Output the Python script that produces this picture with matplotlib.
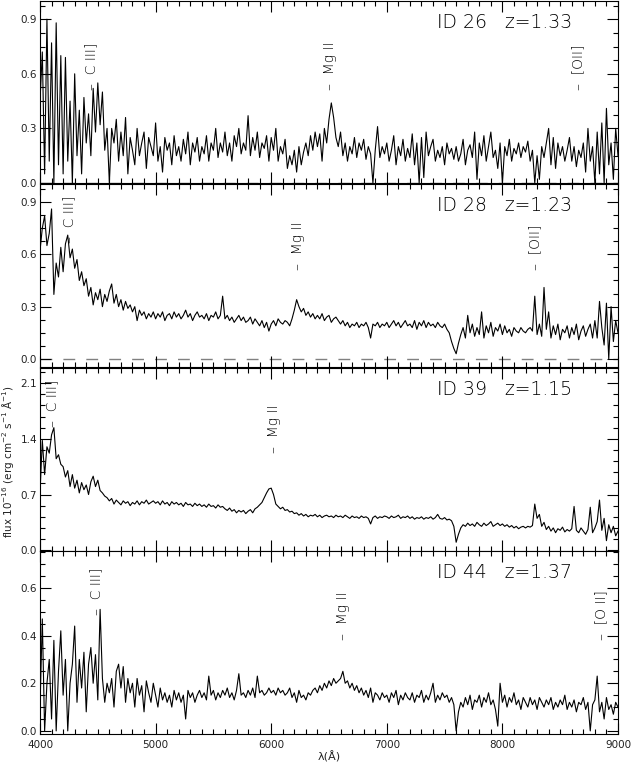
import numpy as np
import matplotlib
matplotlib.use('Agg')
import matplotlib.pyplot as plt
from matplotlib.ticker import MultipleLocator, FormatStrFormatter

# wavelength grid (Angstrom), 20 A sampling
wave = np.arange(4000, 9001, 20)

flux_id26 = [
    0.45, 0.72, 0.05, 0.90, 0.12, 0.77, 0.00, 0.88, 0.10, 0.70,
    0.05, 0.69, 0.12, 0.45, 0.00, 0.60, 0.15, 0.40, 0.05, 0.47,
    0.22, 0.38, 0.15, 0.52, 0.28, 0.55, 0.32, 0.50, 0.18, 0.30,
    0.00, 0.30, 0.22, 0.35, 0.12, 0.28, 0.15, 0.36, 0.05, 0.25,
    0.18, 0.10, 0.30, 0.15, 0.22, 0.28, 0.08, 0.25, 0.20, 0.15,
    0.33, 0.12, 0.20, 0.06, 0.25, 0.18, 0.22, 0.10, 0.26, 0.15,
    0.20, 0.12, 0.24, 0.16, 0.28, 0.10, 0.22, 0.17, 0.25, 0.12,
    0.20, 0.16, 0.26, 0.12, 0.22, 0.18, 0.30, 0.14, 0.22, 0.17,
    0.28, 0.15, 0.22, 0.12, 0.26, 0.20, 0.30, 0.16, 0.22, 0.18,
    0.37, 0.15, 0.25, 0.18, 0.28, 0.14, 0.22, 0.19, 0.26, 0.12,
    0.25, 0.18, 0.30, 0.12, 0.20, 0.16, 0.24, 0.08, 0.15, 0.10,
    0.18, 0.06, 0.20, 0.10, 0.17, 0.22, 0.15, 0.26, 0.18, 0.28,
    0.20, 0.27, 0.12, 0.30, 0.22, 0.35, 0.44, 0.36, 0.25, 0.20,
    0.28, 0.15, 0.22, 0.12, 0.20, 0.16, 0.25, 0.14, 0.22, 0.18,
    0.24, 0.13, 0.20, 0.16, 0.00, 0.18, 0.31, 0.14, 0.20, 0.16,
    0.22, 0.12, 0.18, 0.26, 0.10, 0.20, 0.15, 0.24, 0.12, 0.19,
    0.14, 0.27, 0.10, 0.22, 0.00, 0.25, 0.03, 0.28, 0.15, 0.20,
    0.24, 0.12, 0.18, 0.14, 0.20, 0.10, 0.22, 0.16, 0.19, 0.13,
    0.20, 0.12, 0.16, 0.24, 0.10, 0.18, 0.21, 0.14, 0.28, 0.02,
    0.22, 0.15, 0.26, 0.12, 0.20, 0.28, 0.14, 0.18, 0.08, 0.22,
    0.00, 0.20, 0.15, 0.24, 0.12, 0.19, 0.16, 0.22, 0.14, 0.20,
    0.17, 0.23, 0.12, 0.18, 0.00, 0.15, 0.02, 0.20, 0.14, 0.22,
    0.30, 0.10, 0.25, 0.08, 0.22, 0.15, 0.20, 0.12, 0.18, 0.25,
    0.12, 0.20, 0.09, 0.18, 0.14, 0.22, 0.06, 0.30, 0.12, 0.20,
    0.00, 0.28, 0.05, 0.33, 0.00, 0.41, 0.10, 0.22, 0.02, 0.30,
    0.15,
]

flux_id28 = [
    0.62, 0.75, 0.82, 0.65, 0.72, 0.86, 0.37, 0.55, 0.47, 0.64,
    0.50, 0.66, 0.71, 0.58, 0.63, 0.52, 0.57, 0.45, 0.50, 0.42,
    0.46, 0.36, 0.41, 0.31, 0.38, 0.34, 0.40, 0.30, 0.37, 0.33,
    0.39, 0.43, 0.32, 0.37, 0.30, 0.34, 0.28, 0.33, 0.29, 0.31,
    0.27, 0.30, 0.22, 0.28, 0.25, 0.27, 0.23, 0.26, 0.24, 0.27,
    0.23, 0.26, 0.24, 0.27, 0.22, 0.25, 0.26, 0.23, 0.27, 0.24,
    0.26, 0.23, 0.25, 0.28, 0.24, 0.26, 0.22, 0.25, 0.27, 0.24,
    0.25, 0.23, 0.26, 0.22, 0.25, 0.24, 0.27, 0.23, 0.25, 0.36,
    0.23, 0.25, 0.22, 0.24, 0.21, 0.23, 0.25, 0.22, 0.24, 0.21,
    0.22, 0.24, 0.20, 0.23, 0.21, 0.19, 0.22, 0.18, 0.21, 0.16,
    0.20, 0.22, 0.19, 0.23, 0.21, 0.20, 0.22, 0.21, 0.19, 0.23,
    0.28, 0.34, 0.30, 0.27, 0.29, 0.25, 0.27, 0.24, 0.26, 0.23,
    0.25, 0.23, 0.26, 0.22, 0.24, 0.25, 0.21, 0.23, 0.24, 0.22,
    0.20, 0.22, 0.19, 0.21, 0.18, 0.20, 0.19, 0.21, 0.18, 0.20,
    0.19, 0.21, 0.18, 0.12, 0.20, 0.19, 0.21, 0.18, 0.20, 0.19,
    0.21, 0.18, 0.20, 0.22, 0.19, 0.21, 0.18, 0.20, 0.22, 0.19,
    0.20, 0.18, 0.22, 0.17, 0.21, 0.19, 0.22, 0.18, 0.21, 0.19,
    0.20, 0.18, 0.21, 0.19, 0.18, 0.20, 0.17, 0.15, 0.10, 0.06,
    0.03, 0.09, 0.14, 0.18, 0.12, 0.25, 0.15, 0.20, 0.13, 0.18,
    0.14, 0.27, 0.12, 0.19, 0.15, 0.21, 0.13, 0.18, 0.16, 0.20,
    0.14, 0.19, 0.15, 0.17, 0.13, 0.18, 0.16, 0.15, 0.18, 0.16,
    0.15, 0.17, 0.18, 0.16, 0.36, 0.14, 0.20, 0.13, 0.41, 0.17,
    0.27, 0.12, 0.19, 0.14, 0.20, 0.11, 0.17, 0.15, 0.19, 0.12,
    0.18, 0.14, 0.20, 0.11, 0.16, 0.19, 0.13, 0.17, 0.20, 0.12,
    0.22, 0.12, 0.33, 0.18, 0.08, 0.32, 0.00, 0.30, 0.10, 0.22,
    0.15,
]

flux_id39 = [
    0.72, 1.38, 0.95, 1.30, 1.22, 1.45, 1.54, 1.15, 1.20, 1.08,
    1.05, 0.92, 1.00, 0.80, 0.95, 0.78, 0.88, 0.72, 0.85, 0.76,
    0.82, 0.70, 0.86, 0.93, 0.80, 0.88, 0.75, 0.72, 0.68, 0.66,
    0.62, 0.65, 0.58, 0.63, 0.60, 0.57, 0.62, 0.59, 0.61, 0.56,
    0.60, 0.58, 0.62, 0.57, 0.61, 0.59, 0.63, 0.58, 0.60, 0.62,
    0.59, 0.61, 0.57, 0.62, 0.58, 0.60, 0.56, 0.61, 0.58, 0.60,
    0.57, 0.59, 0.55, 0.60, 0.57, 0.58, 0.55, 0.59, 0.56, 0.58,
    0.55, 0.57, 0.54, 0.58, 0.55, 0.56, 0.53, 0.57, 0.54, 0.55,
    0.52, 0.50, 0.53, 0.49, 0.51, 0.47, 0.50, 0.48, 0.50, 0.46,
    0.49, 0.51, 0.47, 0.52, 0.54, 0.57, 0.60, 0.66, 0.72, 0.77,
    0.78, 0.70, 0.58, 0.55, 0.52, 0.54, 0.50, 0.51, 0.48, 0.49,
    0.46, 0.47, 0.44, 0.46, 0.43, 0.45, 0.42, 0.44, 0.43, 0.45,
    0.42, 0.44, 0.41, 0.43, 0.44, 0.42, 0.43, 0.41, 0.44, 0.42,
    0.43, 0.41, 0.44, 0.42, 0.40, 0.43, 0.41, 0.42, 0.40, 0.43,
    0.41, 0.42, 0.40, 0.33, 0.41, 0.43, 0.40, 0.42, 0.41, 0.43,
    0.42, 0.40, 0.43, 0.41, 0.42, 0.44, 0.40, 0.42, 0.41, 0.43,
    0.40, 0.42, 0.39, 0.41, 0.40, 0.42, 0.39, 0.41, 0.40, 0.42,
    0.39, 0.41, 0.45, 0.40, 0.39, 0.41, 0.38, 0.39, 0.37, 0.30,
    0.10, 0.20, 0.28, 0.32, 0.30, 0.34, 0.31, 0.33, 0.30, 0.35,
    0.32, 0.30, 0.34, 0.31, 0.33, 0.36, 0.30, 0.32, 0.34, 0.31,
    0.33, 0.30, 0.32, 0.29, 0.31, 0.28, 0.30, 0.27, 0.29, 0.30,
    0.28, 0.30, 0.29, 0.31, 0.58, 0.40, 0.45, 0.30, 0.35, 0.26,
    0.30, 0.24, 0.28, 0.22, 0.27, 0.25, 0.29, 0.23, 0.26, 0.24,
    0.27, 0.55, 0.25, 0.22, 0.28, 0.24, 0.20, 0.26, 0.54, 0.22,
    0.28, 0.36, 0.63, 0.25, 0.40, 0.12, 0.32, 0.22, 0.30, 0.18,
    0.24,
]

flux_id44 = [
    0.10, 0.47, 0.00, 0.20, 0.30, 0.05, 0.38, 0.00, 0.25, 0.42,
    0.15, 0.30, 0.00, 0.20, 0.28, 0.44, 0.12, 0.30, 0.18, 0.33,
    0.08, 0.28, 0.35, 0.20, 0.32, 0.13, 0.51, 0.22, 0.12, 0.20,
    0.16, 0.22, 0.10, 0.25, 0.28, 0.18, 0.27, 0.12, 0.22, 0.16,
    0.20, 0.10, 0.22, 0.15, 0.19, 0.08, 0.21, 0.16, 0.12, 0.20,
    0.15, 0.10, 0.18, 0.13, 0.16, 0.12, 0.15, 0.10, 0.17, 0.13,
    0.16, 0.12, 0.15, 0.05, 0.17, 0.14, 0.16, 0.12, 0.15, 0.17,
    0.14, 0.16, 0.13, 0.23, 0.15, 0.17, 0.13, 0.16, 0.14, 0.17,
    0.15, 0.18, 0.14, 0.16, 0.13, 0.17, 0.24, 0.15, 0.16, 0.14,
    0.17, 0.15, 0.18, 0.14, 0.23, 0.16, 0.17, 0.15, 0.16, 0.18,
    0.16, 0.17, 0.15, 0.18, 0.16, 0.17, 0.15, 0.16, 0.18, 0.14,
    0.16, 0.12, 0.17, 0.14, 0.15, 0.13, 0.16, 0.15, 0.17, 0.18,
    0.16, 0.19, 0.17, 0.20, 0.18, 0.21, 0.19, 0.22, 0.20, 0.21,
    0.22, 0.25, 0.20, 0.21, 0.18, 0.20, 0.17, 0.19, 0.16, 0.18,
    0.15, 0.17, 0.14, 0.18, 0.12, 0.16, 0.15, 0.13, 0.16, 0.14,
    0.15, 0.12, 0.16, 0.14, 0.17, 0.11, 0.15, 0.13, 0.16, 0.14,
    0.13, 0.16, 0.12, 0.15, 0.14, 0.17, 0.12, 0.15, 0.13, 0.16,
    0.20, 0.12, 0.15, 0.13, 0.16, 0.14, 0.15, 0.12, 0.14, 0.11,
    0.00, 0.08, 0.12, 0.10, 0.14, 0.11, 0.15, 0.09, 0.13, 0.12,
    0.15, 0.10, 0.14, 0.12, 0.16, 0.11, 0.13, 0.09, 0.02, 0.20,
    0.12, 0.15, 0.10, 0.14, 0.12, 0.16, 0.11, 0.13, 0.09, 0.14,
    0.12, 0.10, 0.14, 0.11, 0.13, 0.09, 0.14, 0.12, 0.10, 0.13,
    0.11, 0.14, 0.09, 0.12, 0.10, 0.13, 0.11, 0.15, 0.09, 0.12,
    0.10, 0.13, 0.08, 0.12, 0.11, 0.14, 0.09, 0.12, 0.00, 0.11,
    0.13, 0.23, 0.08, 0.12, 0.05, 0.14, 0.09, 0.11, 0.07, 0.12,
    0.10,
]

ids = ["ID 26   z=1.33", "ID 28   z=1.23", "ID 39   z=1.15", "ID 44   z=1.37"]
fluxes = [flux_id26, flux_id28, flux_id39, flux_id44]
ylims = [(0.0, 1.0), (-0.046, 1.003), (-0.01, 2.29), (-0.013, 0.755)]
ymajor = [0.3, 0.3, 0.7, 0.2]
yminor = [0.075, 0.075, 0.14, 0.05]
zero_line = [True, True, False, False]

line_names = [["C III]", "Mg II", "[OII]"],
              ["C III]", "Mg II", "[OII]"],
              ["C III]", "Mg II"],
              ["C III]", "Mg II", "[O II]"]]
line_waves = [[4445, 6510, 8655],
              [4250, 6235, 8285],
              [4105, 6020],
              [4490, 6625, 8855]]
line_ys = [[0.51, 0.51, 0.51],
           [0.665, 0.51, 0.51],
           [1.55, 1.22],
           [0.487, 0.38, 0.38]]

xticks = [4000, 5000, 6000, 7000, 8000, 9000]

fig = plt.figure(figsize=(6.32, 7.66), dpi=100)
left = 40 / 632
width = 578 / 632
bottoms_px = [183, 367, 551, 734]
tops_px = [1, 184, 368, 551]
txtc = '#222222'

for i in range(4):
    b = 1 - bottoms_px[i] / 766
    h = (bottoms_px[i] - tops_px[i]) / 766
    ax = fig.add_axes([left, b, width, h])
    f = np.array(fluxes[i])
    w = np.linspace(wave[0], wave[-1], len(f))
    ax.plot(w, f, color='black', lw=0.8)
    if zero_line[i]:
        ax.axhline(0, color='#808080', lw=1.0, ls=(0, (8.5, 8)), zorder=1)
    ax.set_xlim(4000, 9000)
    ax.set_ylim(*ylims[i])
    ax.xaxis.set_major_locator(MultipleLocator(1000))
    ax.xaxis.set_minor_locator(MultipleLocator(100))
    ax.yaxis.set_major_locator(MultipleLocator(ymajor[i]))
    ax.yaxis.set_minor_locator(MultipleLocator(yminor[i]))
    ax.yaxis.set_major_formatter(FormatStrFormatter('%.1f'))
    ax.tick_params(which='both', direction='in', top=True, right=True,
                   width=0.8, colors='black', labelcolor=txtc, labelsize=7.5)
    ax.tick_params(which='major', length=8)
    ax.tick_params(which='minor', length=3.5)
    ax.tick_params(axis='y', pad=2)
    ax.tick_params(axis='x', pad=4)
    for s in ax.spines.values():
        s.set_linewidth(0.8)
    if i < 3:
        ax.tick_params(axis='x', labelbottom=False)
    else:
        ax.set_xticks(xticks)
    ax.text(0.92, 0.852, ids[i], transform=ax.transAxes, ha='right',
            va='baseline', fontsize=13.5, color='black', fontweight='light')
    for name, lw_, ly in zip(line_names[i], line_waves[i], line_ys[i]):
        ax.text(lw_, ly, "\u2013  " + name, rotation=90, ha='center',
                va='bottom', fontsize=10, color='black', fontweight='light')

fig.text(8 / 632, 1 - 462 / 766,
         r"flux 10$^{-16}$ (erg cm$^{-2}$ s$^{-1}$ $\mathrm{\AA}^{-1}$)",
         rotation=90, ha='center', va='center', fontsize=7.5, color=txtc)
fig.text(329 / 632, 1 - 757 / 766, "\u03bb(\u00c5)", ha='center', va='center',
         fontsize=8, color=txtc)

fig.savefig('out.png', dpi=100)
